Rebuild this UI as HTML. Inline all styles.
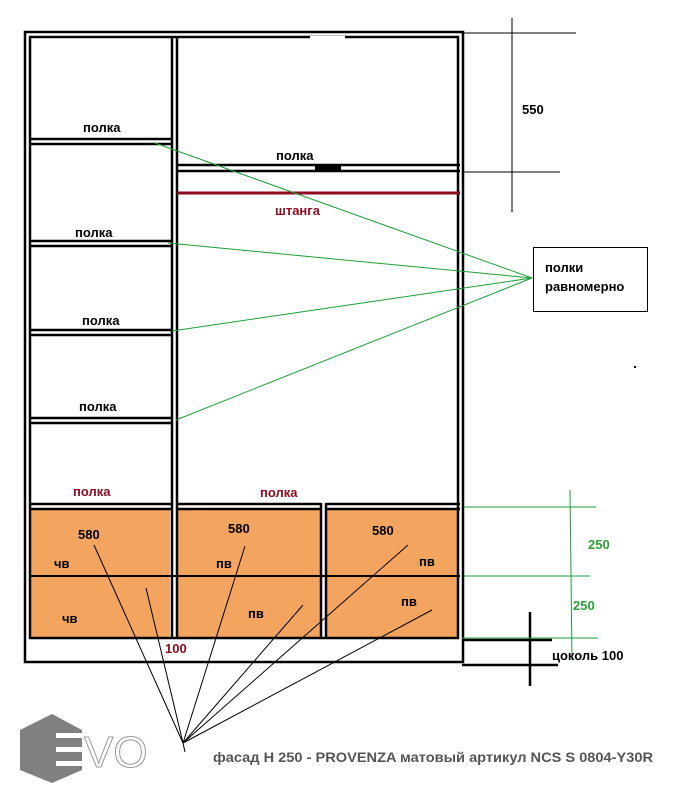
<!DOCTYPE html>
<html><head><meta charset="utf-8"><style>
html,body{margin:0;padding:0;background:#fff;}
svg{display:block;}
text{font-family:"Liberation Sans",Arial,sans-serif;font-weight:bold;}
</style></head><body>
<svg width="677" height="804" viewBox="0 0 677 804" xmlns="http://www.w3.org/2000/svg">
<rect width="677" height="804" fill="#fff"/>
<rect x="30" y="510" width="140" height="128" fill="#F3A45F"/>
<rect x="178" y="510" width="142" height="128" fill="#F3A45F"/>
<rect x="327" y="510" width="131" height="128" fill="#F3A45F"/>
<line x1="30" y1="576" x2="460" y2="576" stroke="#000" stroke-width="2"/>
<g stroke="#000" stroke-width="2.5" fill="none">
<rect x="25" y="32" width="438" height="630"/>
<rect x="30" y="37" width="428" height="601"/>
<line x1="172" y1="37" x2="172" y2="638"/>
<line x1="177" y1="37" x2="177" y2="638"/>
<line x1="321" y1="503" x2="321" y2="638"/>
<line x1="326" y1="503" x2="326" y2="638"/>
<line x1="30" y1="139" x2="172" y2="139"/><line x1="30" y1="144" x2="172" y2="144"/>
<line x1="30" y1="241" x2="172" y2="241"/><line x1="30" y1="246" x2="172" y2="246"/>
<line x1="30" y1="330" x2="172" y2="330"/><line x1="30" y1="335" x2="172" y2="335"/>
<line x1="30" y1="418" x2="172" y2="418"/><line x1="30" y1="423" x2="172" y2="423"/>
<line x1="30" y1="504" x2="172" y2="504"/><line x1="30" y1="509" x2="172" y2="509"/>
<line x1="177" y1="165" x2="460" y2="165"/><line x1="177" y1="171" x2="460" y2="171"/>
<line x1="177" y1="504" x2="321" y2="504"/><line x1="177" y1="509" x2="321" y2="509"/>
<line x1="326" y1="504" x2="460" y2="504"/><line x1="326" y1="509" x2="460" y2="509"/>
</g>
<rect x="310" y="36" width="35" height="3" fill="#fff"/>
<rect x="315" y="165" width="26" height="6" fill="#000"/>
<line x1="177" y1="193" x2="460" y2="193" stroke="#8B0A1E" stroke-width="3"/>
<g stroke="#000" stroke-width="1">
<line x1="512" y1="18" x2="512" y2="212"/>
<line x1="464" y1="33" x2="576" y2="33"/>
<line x1="464" y1="172" x2="560" y2="172"/>
</g>
<text x="522" y="114" font-size="13">550</text>
<rect x="533.5" y="247.5" width="114" height="64" fill="#fff" stroke="#000" stroke-width="1"/>
<text x="545" y="272" font-size="13">полки</text>
<text x="545" y="291" font-size="13">равномерно</text>
<rect x="634" y="366" width="2" height="2" fill="#000"/>
<g stroke="#1E9E3A" stroke-width="1">
<line x1="532" y1="278" x2="155" y2="143"/>
<line x1="532" y1="278" x2="168" y2="243"/>
<line x1="532" y1="278" x2="172" y2="331"/>
<line x1="532" y1="278" x2="176" y2="420"/>
<line x1="570" y1="490" x2="572" y2="660"/>
<line x1="464" y1="507" x2="596" y2="507"/>
<line x1="464" y1="576" x2="590" y2="576"/>
<line x1="464" y1="638" x2="598" y2="638"/>
</g>
<text x="588" y="549" font-size="13" fill="#2BA03A">250</text>
<text x="573" y="610" font-size="13" fill="#2BA03A">250</text>
<g stroke="#000" stroke-width="2.5">
<line x1="530" y1="612" x2="530" y2="686"/>
<line x1="462" y1="640" x2="552" y2="640"/>
<line x1="462" y1="665" x2="558" y2="665"/>
</g>
<line x1="462" y1="638" x2="552" y2="638" stroke="#1E9E3A" stroke-width="1"/>
<text x="552" y="660" font-size="13">цоколь 100</text>
<text x="83" y="132" font-size="13">полка</text>
<text x="276" y="160" font-size="13">полка</text>
<text x="275" y="215" font-size="13" fill="#8B0A1E">штанга</text>
<text x="75" y="237" font-size="13">полка</text>
<text x="82" y="325" font-size="13">полка</text>
<text x="79" y="411" font-size="13">полка</text>
<text x="73" y="496" font-size="13" fill="#8B0A1E">полка</text>
<text x="260" y="497" font-size="13" fill="#8B0A1E">полка</text>
<text x="78" y="539" font-size="13">580</text>
<text x="228" y="533" font-size="13">580</text>
<text x="372" y="535" font-size="13">580</text>
<text x="54" y="568" font-size="13">чв</text>
<text x="216" y="568" font-size="13">пв</text>
<text x="419" y="566" font-size="13">пв</text>
<text x="62" y="623" font-size="13">чв</text>
<text x="248" y="618" font-size="13">пв</text>
<text x="401" y="606" font-size="13">пв</text>
<text x="165" y="653" font-size="13" fill="#8B0A1E">100</text>
<g stroke="#000" stroke-width="1">
<line x1="183" y1="743" x2="94" y2="545"/>
<line x1="183" y1="743" x2="146" y2="588"/>
<line x1="183" y1="743" x2="245" y2="546"/>
<line x1="183" y1="743" x2="303" y2="605"/>
<line x1="183" y1="743" x2="408" y2="545"/>
<line x1="183" y1="743" x2="432" y2="610"/>
<line x1="183" y1="743" x2="185" y2="752"/>
</g>
<polygon points="52,714 82,730 82,770 52,783 20,770 20,730" fill="#808080"/>
<rect x="56" y="733" width="27" height="5" fill="#fff"/>
<rect x="56" y="747" width="27" height="5" fill="#fff"/>
<rect x="56" y="761" width="27" height="5" fill="#fff"/>
<text x="84" y="767" font-size="44" fill="#fff" stroke="#999" stroke-width="1" style="font-weight:normal">VO</text>
<text x="213" y="762" font-size="13.5" fill="#555" textLength="440" lengthAdjust="spacingAndGlyphs">фасад Н 250 - PROVENZA матовый артикул NCS S 0804-Y30R</text>
</svg>
</body></html>
